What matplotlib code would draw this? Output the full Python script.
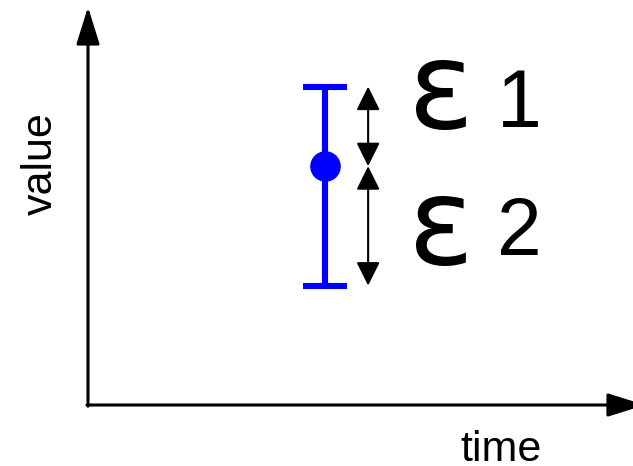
"""Asymmetric error bar sketch: one measurement with upper/lower errors."""

import matplotlib as mpl

mpl.use("Agg")
import matplotlib.pyplot as plt  # noqa: E402

plt.rcParams.update({"font.family": ["Liberation Sans", "DejaVu Sans"]})

BLUE = "#0000ff"

# data (arbitrary units, axes run 0..10)
time = [4.35]
value = [6.0]
err_upper = [2.0]
err_lower = [3.0]
err_labels = ["1", "2"]

fig = plt.figure(figsize=(6.33, 4.66), dpi=100)
ax = fig.add_axes([88 / 633, 61 / 466, 545 / 633, 398 / 466])
ax.set_xlim(0, 10)
ax.set_ylim(0, 10)
ax.axis("off")

# axes drawn as arrows
axis_arrow = dict(arrowstyle="-|>,head_length=2.3,head_width=0.72",
                  mutation_scale=10, lw=2.2, color="black",
                  shrinkA=0, shrinkB=0)
ax.annotate("", xy=(10.22, 0), xytext=(-0.02, 0), arrowprops=axis_arrow,
            annotation_clip=False)
ax.annotate("", xy=(0, 10), xytext=(0, -0.03), arrowprops=axis_arrow,
            annotation_clip=False)

ax.errorbar(time, value, yerr=[err_lower, err_upper], fmt="o", color=BLUE,
            ms=21, lw=4.4, capsize=16, capthick=4.4, clip_on=False)

# double arrows measuring each error
x_arr = 5.14
v, up, lo = value[0], err_upper[0], err_lower[0]
dbl = dict(arrowstyle="<|-|>,head_length=1.45,head_width=0.72",
           mutation_scale=10, lw=1.5, color="black", shrinkA=0, shrinkB=0)
ax.annotate("", xy=(x_arr, v + up), xytext=(x_arr, v), arrowprops=dbl)
ax.annotate("", xy=(x_arr, v - lo), xytext=(x_arr, v), arrowprops=dbl)

# epsilon labels
eps_y = [6.96, 3.54]
num_y = [6.98, 3.77]
for ey, ny, lab in zip(eps_y, num_y, err_labels):
    ax.text(6.48, ey, "\u03b5", fontsize=88, family="DejaVu Sans",
            ha="center", va="baseline")
    ax.text(7.5, ny, lab, fontsize=58, ha="left", va="baseline")

ax.text(-0.66, 6.06, "value", fontsize=31, rotation=90, rotation_mode="anchor",
        ha="center", va="baseline", clip_on=False)
ax.text(7.58, -1.41, "time", fontsize=31, ha="center", va="baseline",
        clip_on=False)

fig.savefig("out.png", dpi=100)
